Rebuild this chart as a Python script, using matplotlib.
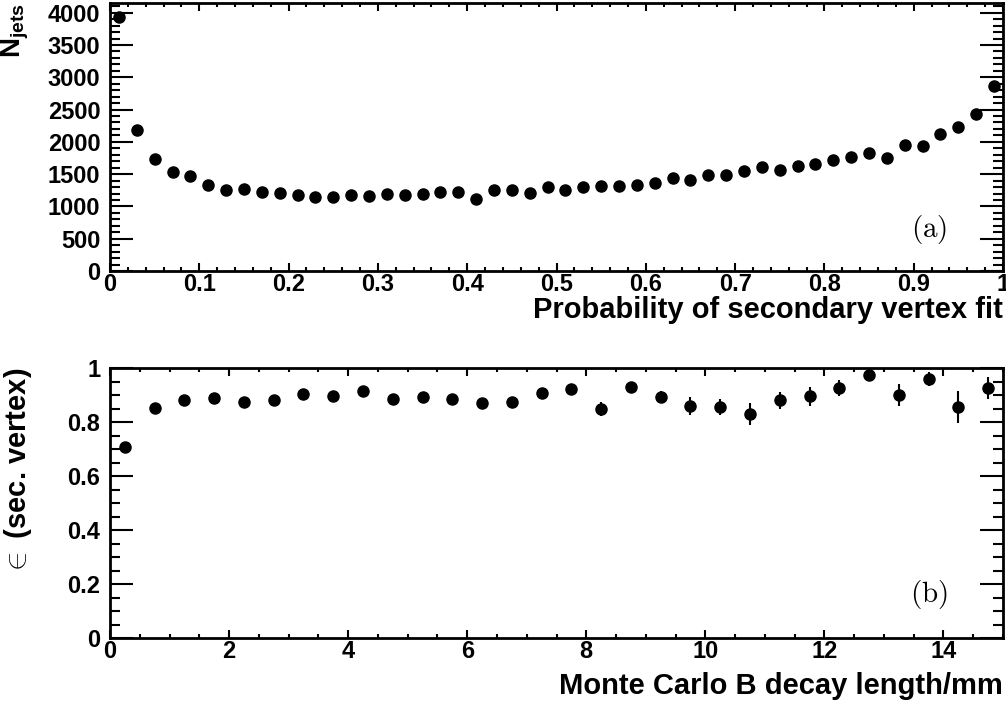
import matplotlib
matplotlib.use("Agg")
import matplotlib.pyplot as plt
from matplotlib.ticker import MultipleLocator, FuncFormatter
import numpy as np

plt.rcParams['font.family'] = ['Liberation Sans', 'DejaVu Sans']
plt.rcParams['font.weight'] = 'bold'
plt.rcParams['mathtext.fontset'] = 'custom'
plt.rcParams['mathtext.rm'] = 'Liberation Sans:bold'
plt.rcParams['mathtext.it'] = 'Liberation Sans:bold'
plt.rcParams['mathtext.bf'] = 'Liberation Sans:bold'

# ---- data: panel (a) ----
prob_centers = [0.01, 0.03, 0.05, 0.07, 0.09, 0.11, 0.13, 0.15, 0.17, 0.19,
                0.21, 0.23, 0.25, 0.27, 0.29, 0.31, 0.33, 0.35, 0.37, 0.39,
                0.41, 0.43, 0.45, 0.47, 0.49, 0.51, 0.53, 0.55, 0.57, 0.59,
                0.61, 0.63, 0.65, 0.67, 0.69, 0.71, 0.73, 0.75, 0.77, 0.79,
                0.81, 0.83, 0.85, 0.87, 0.89, 0.91, 0.93, 0.95, 0.97, 0.99]
n_jets = [3940, 2190, 1735, 1530, 1470, 1330, 1250, 1265, 1220, 1215,
          1170, 1150, 1145, 1175, 1160, 1200, 1175, 1200, 1220, 1220,
          1120, 1250, 1250, 1215, 1295, 1250, 1300, 1310, 1310, 1330,
          1360, 1440, 1415, 1490, 1490, 1550, 1615, 1570, 1630, 1650,
          1720, 1770, 1830, 1750, 1955, 1940, 2120, 2230, 2430, 2870]

# ---- data: panel (b) ----
decay_centers = [0.25, 0.75, 1.25, 1.75, 2.25, 2.75, 3.25, 3.75, 4.25, 4.75,
                 5.25, 5.75, 6.25, 6.75, 7.25, 7.75, 8.25, 8.75, 9.25, 9.75,
                 10.25, 10.75, 11.25, 11.75, 12.25, 12.75, 13.25, 13.75, 14.25, 14.75]
efficiency = [0.707, 0.852, 0.881, 0.890, 0.875, 0.881, 0.904, 0.896, 0.916, 0.886,
              0.894, 0.885, 0.872, 0.874, 0.909, 0.922, 0.848, 0.930, 0.894, 0.859,
              0.855, 0.830, 0.880, 0.895, 0.925, 0.975, 0.900, 0.960, 0.855, 0.925]
eff_err = [0.005, 0.005, 0.005, 0.005, 0.006, 0.006, 0.007, 0.008, 0.009, 0.010,
           0.011, 0.012, 0.013, 0.014, 0.015, 0.016, 0.026, 0.018, 0.022, 0.034,
           0.030, 0.040, 0.032, 0.035, 0.030, 0.020, 0.040, 0.025, 0.060, 0.040]

W, H = 1006, 708
fig = plt.figure(figsize=(W / 100, H / 100), dpi=100)

def frac_axes(x0, y0, x1, y1):
    return fig.add_axes([x0 / W, 1 - y1 / H, (x1 - x0) / W, (y1 - y0) / H])

ax1 = frac_axes(110, 3, 1003, 271)
ax2 = frac_axes(110, 368, 1003, 638)

fmt = FuncFormatter(lambda v, p: '%g' % round(v, 6))

def style(ax, xmaj, xmin, ymaj, ymin):
    for s in ax.spines.values():
        s.set_linewidth(2.0)
    ax.xaxis.set_major_locator(MultipleLocator(xmaj))
    ax.xaxis.set_minor_locator(MultipleLocator(xmin))
    ax.yaxis.set_major_locator(MultipleLocator(ymaj))
    ax.yaxis.set_minor_locator(MultipleLocator(ymin))
    ax.xaxis.set_major_formatter(fmt)
    ax.yaxis.set_major_formatter(fmt)
    ax.tick_params(axis='x', which='major', direction='in', length=5.5, width=1.5,
                   top=True, bottom=True, labelsize=17, pad=1.5)
    ax.tick_params(axis='x', which='minor', direction='in', length=3, width=1.5,
                   top=True, bottom=True)
    ax.tick_params(axis='y', which='major', direction='in', length=16.5, width=1.5,
                   left=True, right=True, labelsize=17, pad=7)
    ax.tick_params(axis='y', which='minor', direction='in', length=7, width=1.5,
                   left=True, right=True)
    for lab in ax.get_xticklabels() + ax.get_yticklabels():
        lab.set_fontweight('bold')

# panel (a)
ax1.plot(prob_centers, n_jets, 'o', color='black', markersize=8, linestyle='none')
ax1.set_xlim(0, 1)
ax1.set_ylim(0, 4150)
style(ax1, 0.1, 0.02, 500, 100)
ax1.set_xlabel('Probability of secondary vertex fit', fontsize=21, fontweight='bold', loc='right')
ax1.xaxis.set_label_coords(1.0, -0.095)
ax1.set_ylabel(r'$\mathbf{N_{jets}}$', fontsize=20, loc='top')
ax1.yaxis.set_label_coords(-0.088, 1.0)
ax1.text(0.917, 0.155, r'$\mathrm{(a)}$', transform=ax1.transAxes, fontsize=21,
         math_fontfamily='cm', ha='center', va='center')

# panel (b)
ax2.errorbar(decay_centers, efficiency, yerr=eff_err, fmt='o', color='black',
             markersize=8, elinewidth=1.5, capsize=0)
ax2.set_xlim(0, 15)
ax2.set_ylim(0, 1.0)
style(ax2, 2, 0.5, 0.2, 0.05)
ax2.set_xlabel('Monte Carlo B decay length/mm', fontsize=21, fontweight='bold', loc='right')
ax2.xaxis.set_label_coords(1.0, -0.125)
ax2.set_ylabel(r'$\in$ (sec. vertex)', fontsize=21, fontweight='bold', loc='top',
               math_fontfamily='cm')
ax2.yaxis.set_label_coords(-0.085, 1.0)
ax2.text(0.917, 0.16, r'$\mathrm{(b)}$', transform=ax2.transAxes, fontsize=21,
         math_fontfamily='cm', ha='center', va='center')

fig.savefig('out.png', dpi=100)
